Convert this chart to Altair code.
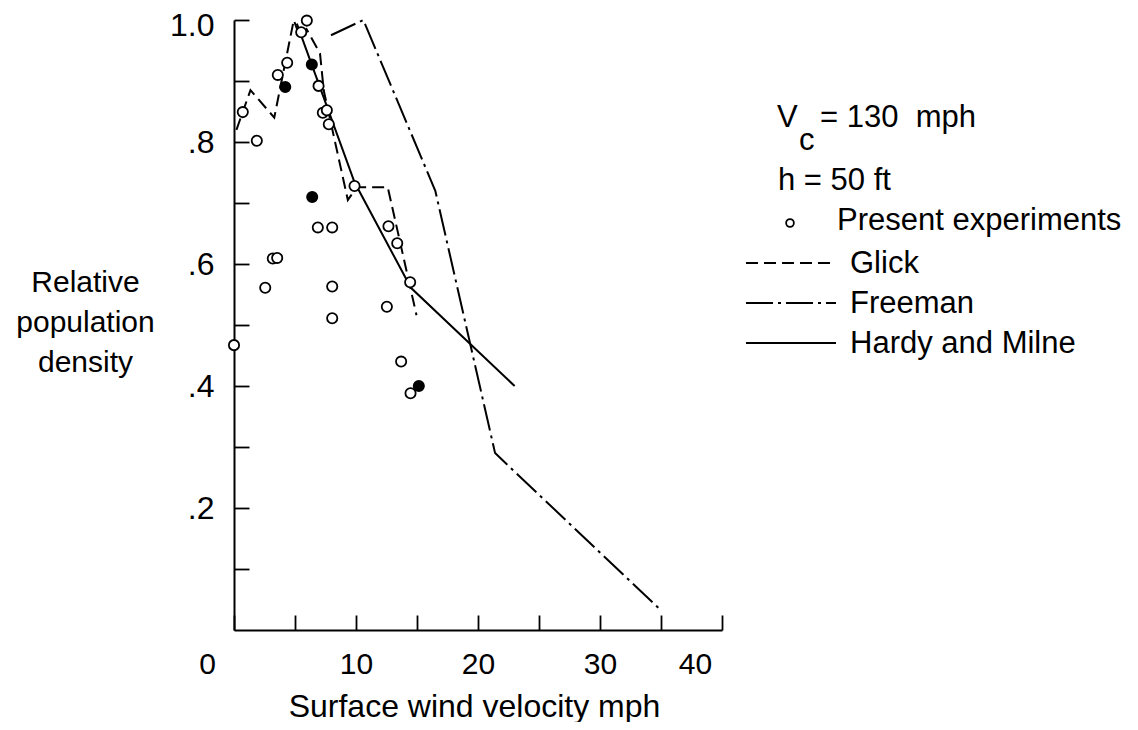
import altair as alt
import pandas as pd

# ---------------- data ----------------
# Present experiments (open symbols)
open_x = [5.97, 5.51, 4.36, 3.59, 6.93, 7.28, 7.61, 7.77, 0.72, 1.87, 9.88,
          6.87, 8.05, 12.66, 13.38, 3.18, 3.54, 2.56, 8.05, 14.44, 8.05, 12.53,
          0.0, 13.7, 14.47]
open_y = [0.999, 0.980, 0.930, 0.910, 0.892, 0.848, 0.852, 0.829, 0.849, 0.802, 0.728,
          0.660, 0.660, 0.662, 0.634, 0.609, 0.610, 0.561, 0.563, 0.570, 0.511, 0.530,
          0.467, 0.440, 0.388]
# Present experiments (solid symbols)
filled_x = [4.2, 6.38, 6.41, 15.15]
filled_y = [0.890, 0.927, 0.710, 0.400]

glick_x = [0.2, 1.35, 3.3, 4.9, 5.4, 5.95, 7.05, 7.36, 9.33, 10.0, 10.3, 12.6, 14.96]
glick_y = [0.82, 0.885, 0.84, 1.0, 0.972, 0.985, 0.945, 0.884, 0.705, 0.724, 0.726, 0.726, 0.516]

freeman_x = [7.95, 10.6, 16.5, 21.4, 34.8]
freeman_y = [0.975, 1.0, 0.72, 0.29, 0.036]

hardy_x = [5.15, 9.88, 14.5, 23.0]
hardy_y = [0.994, 0.734, 0.561, 0.40]

x_ticks = [0, 5, 10, 15, 20, 25, 30, 35, 40]
y_ticks = [0.1, 0.2, 0.3, 0.4, 0.5, 0.6, 0.7, 0.8, 0.9, 1.0]

x_title = "Surface wind velocity mph"
y_title = ["Relative", "population", "density"]
cond_lines = ["V", "c", "= 130\u00a0\u00a0mph", "h = 50 ft"]
legend_labels = ["Present experiments", "Glick", "Freeman", "Hardy and Milne"]

FONT = "Liberation Sans, Arial, sans-serif"


def line_df(xs, ys):
    return pd.DataFrame({"x": xs, "y": ys, "i": list(range(len(xs)))})


open_df = pd.DataFrame({"x": open_x, "y": open_y})
filled_df = pd.DataFrame({"x": filled_x, "y": filled_y})

x_enc = alt.X(
    "x:Q",
    scale=alt.Scale(domain=[0, 40], nice=False, zero=False),
    axis=alt.Axis(
        values=x_ticks,
        labelExpr="datum.value % 10 === 0 ? datum.label : ''",
        labelOffset={"condition": {"test": "datum.value === 0 || datum.value === 40", "value": -27}, "value": 0},
        labelFlush=False,
        labelFont=FONT, labelFontSize=30, labelColor="black", labelPadding=34,
        tickSize={"expr": "-15"}, tickWidth=1.8, tickColor="black",
        domainColor="black", domainWidth=2, grid=False,
        title=x_title, titleFont=FONT, titleFontSize=32, titleFontWeight="normal",
        titleColor="black", titleX=240, titleY=86, titleBaseline="alphabetic", titleAlign="center",
    ),
)
y_enc = alt.Y(
    "y:Q",
    scale=alt.Scale(domain=[0, 1], nice=False, zero=False),
    axis=alt.Axis(
        values=y_ticks,
        labelExpr="datum.value > 0.95 ? '1.0' : (abs(datum.value * 5 - round(datum.value * 5)) < 0.01 ? replace(format(datum.value, '.1f'), '0.', '.') : '')",
        labelOffset={"condition": {"test": "datum.value > 0.95", "value": 5}, "value": 0},
        labelFont=FONT, labelFontSize=32, labelColor="black", labelPadding=35,
        tickSize={"expr": "-15"}, tickWidth=1.8, tickColor="black",
        domainColor="black", domainWidth=2, grid=False,
        title=y_title, titleFont=FONT, titleFontSize=30, titleFontWeight="normal",
        titleColor="black", titleAngle=0, titleX=-149, titleY=262, titleAlign="center",
        titleBaseline="middle", titleLineHeight=40,
    ),
)

glick = alt.Chart(line_df(glick_x, glick_y)).mark_line(
    color="black", strokeWidth=2, strokeDash=[12, 6]
).encode(x=x_enc, y=y_enc, order="i:Q")
freeman = alt.Chart(line_df(freeman_x, freeman_y)).mark_line(
    color="black", strokeWidth=2, strokeDash=[27, 5, 3, 5]
).encode(x=x_enc, y=y_enc, order="i:Q")
hardy = alt.Chart(line_df(hardy_x, hardy_y)).mark_line(
    color="black", strokeWidth=2
).encode(x=x_enc, y=y_enc, order="i:Q")

open_pts = alt.Chart(open_df).mark_point(
    shape="circle", filled=True, fill="white", stroke="black", strokeWidth=1.8, size=105, opacity=1
).encode(x=x_enc, y=y_enc)
filled_pts = alt.Chart(filled_df).mark_point(
    shape="circle", filled=True, fill="black", stroke="black", strokeWidth=1.8, size=105, opacity=1
).encode(x=x_enc, y=y_enc)

one = alt.Data(values=[{}])


def txt(s, x, y, size=31):
    return alt.Chart(one).mark_text(
        text=s, align="left", baseline="alphabetic", font=FONT, fontSize=size, color="black"
    ).encode(x=alt.value(x), y=alt.value(y))


def rule(x1, x2, y, dash=None):
    kw = dict(color="black", strokeWidth=2)
    if dash:
        kw["strokeDash"] = dash
    return alt.Chart(one).mark_rule(**kw).encode(x=alt.value(x1), x2=alt.value(x2), y=alt.value(y))


legend = [
    txt(cond_lines[0], 543, 107),
    txt(cond_lines[1], 565, 130),
    txt(cond_lines[2], 586, 107),
    txt(cond_lines[3], 544, 170),
    alt.Chart(one).mark_point(
        shape="circle", filled=True, fill="white", stroke="black", strokeWidth=1.8, size=60, opacity=1
    ).encode(x=alt.value(556), y=alt.value(203)),
    txt(legend_labels[0], 603, 210),
    rule(512, 602, 243, [12, 6]),
    txt(legend_labels[1], 616, 253),
    rule(512, 602, 283, [27, 5, 3, 5]),
    txt(legend_labels[2], 616, 293),
    rule(512, 602, 323),
    txt(legend_labels[3], 616, 333),
]

chart = alt.layer(glick, freeman, hardy, open_pts, filled_pts, *legend).properties(
    width=488,
    height=610,
    autosize=alt.AutoSizeParams(type="none"),
    padding={"left": 226, "top": 12, "right": 400, "bottom": 92},
    background="white",
).configure_view(stroke=None)

chart.save("out.html", embed_options={"renderer": "svg", "actions": False})
